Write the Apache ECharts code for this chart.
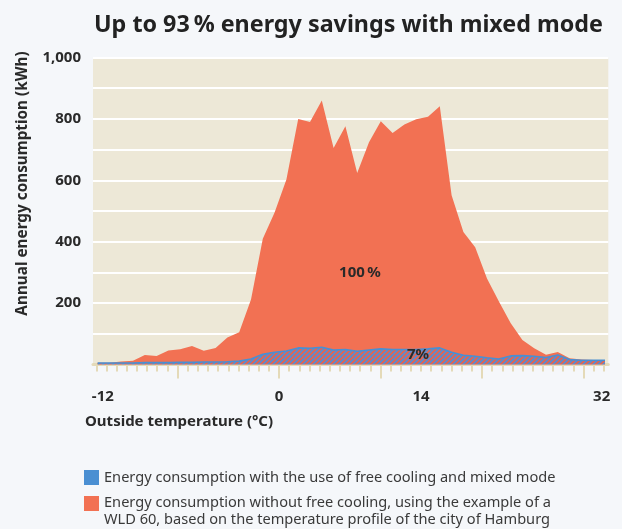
<!DOCTYPE html>
<html>
<head>
<meta charset="utf-8">
<script src="https://cdn.jsdelivr.net/npm/echarts@6/dist/echarts.min.js"></script>
<style>
html,body{margin:0;padding:0;background:#f5f7fa;}
#c{width:622px;height:529px;}
</style>
</head>
<body>
<div id="c"></div>
<script>
// ---- data ----
const temps = [-12,-11,-10,-9,-8,-7,-6,-5,-4,-3,-2,-1,0,1,2,3,4,5,6,7,8,9,10,11,12,13,14,15,16,17,18,19,20,21,22,23,24,25,26,27,28,29,30,31];
const withoutFreeCooling = [6,6,10,12,31,28,46,50,60,45,54,88,105,212,410,495,603,800,790,860,705,776,624,724,792,754,782,799,807,841,551,432,382,280,206,135,80,53,32,41,20,16,15,15];
const withMixedMode = [5,5,5,5,6,6,6,7,7,8,8,9,11,18,33,40,44,54,53,56,47,49,43,47,51,49,49,49,51,54,40,30,27,22,18,28,29,27,23,31,16,14,14,14];
const xTickLabels = ['-12','0','14','32'];
const xTickLabelPos = [-17.36, 0, 14, 31.8];
const xMinorTicks = [-18,-17,-16,-15,-14,-13,-12,-11,-10,-9,-8,-7,-6,-5,-4,-3,-2,-1,0,1,2,3,4,5,6,7,8,9,10,11,12,13,14,15,16,17,18,19,20,21,22,23,24,25,26,27,28,29,30,31,32];
const xMajorTicks = [-10,0,10,20,30];
const yTickLabels = [200,400,600,800,1000];
const titleText = 'Up to 93\u202f% energy savings with mixed mode';
const legendBlue = 'Energy consumption with the use of free cooling and mixed mode';
const legendOrange1 = 'Energy consumption without free cooling, using the example of a';
const legendOrange2 = 'WLD 60, based on the temperature profile of the city of Hamburg';

// ---- styles ----
const FONT = "'Noto Sans', 'Open Sans', sans-serif";
const ORANGE = '#f27153';
const BLUE = '#4a8fd2';
const BEIGE = '#ede8d7';
const TICK = '#e4dab8';

function hatch(){
  const s = 5;
  const cv = document.createElement('canvas');
  cv.width = s; cv.height = s;
  const g = cv.getContext('2d');
  g.fillStyle = '#5a8dd0';
  g.fillRect(0,0,s,s);
  g.strokeStyle = '#e8634c';
  g.lineWidth = 1.6;
  g.beginPath();
  g.moveTo(0,s); g.lineTo(s,0);
  g.moveTo(-1,1); g.lineTo(1,-1);
  g.moveTo(s-1,s+1); g.lineTo(s+1,s-1);
  g.stroke();
  return cv;
}

const chart = echarts.init(document.getElementById('c'));
const pair = arr => temps.map((t,i)=>[t, arr[i]]);

const option = {
  backgroundColor: '#f5f7fa',
  animation: false,
  title: {
    text: titleText, left: 89, top: 9,
    textStyle: {fontFamily: FONT, fontWeight: 'bold', fontSize: 23.3, color: '#222'}
  },
  grid: {left: 93, right: 13.7, top: 57.5, bottom: 164.5, show: true, backgroundColor: BEIGE, borderWidth: 0},
  xAxis: [
    {type: 'value', min: -12.39, max: 31.28, show: false},
    {type: 'value', min: -18.33, max: 32.45, position: 'bottom',
      axisLine: {show: true, lineStyle: {color: TICK, width: 3}},
      axisTick: {show: true, customValues: xMinorTicks, length: 7, lineStyle: {color: TICK, width: 2}},
      axisLabel: {show: true, customValues: xTickLabelPos, margin: 25,
        formatter: v => { const i = xTickLabelPos.findIndex(p => Math.abs(p - v) < 1e-6); return i >= 0 ? xTickLabels[i] : ''; },
        fontFamily: FONT, fontWeight: 'bold', fontSize: 15, color: '#2a2a2a'},
      splitLine: {show: false}},
    {type: 'value', min: -18.33, max: 32.45, position: 'bottom',
      axisLine: {show: false},
      axisTick: {show: true, customValues: xMajorTicks, length: 14, lineStyle: {color: TICK, width: 2}},
      axisLabel: {show: false},
      splitLine: {show: false}}
  ],
  yAxis: {
    type: 'value', min: 0, max: 1000, interval: 100,
    axisLine: {show: false}, axisTick: {show: false},
    splitLine: {show: true, lineStyle: {color: '#ffffff', width: 2}},
    axisLabel: {margin: 12, fontFamily: FONT, fontWeight: 'bold', fontSize: 15, color: '#2a2a2a',
      formatter: v => yTickLabels.indexOf(v) >= 0 ? v.toLocaleString('en-US') : ''}
  },
  series: [
    {type: 'line', name: 'without', xAxisIndex: 0, data: pair(withoutFreeCooling), showSymbol: false,
      lineStyle: {width: 0}, areaStyle: {color: ORANGE, opacity: 1}, z: 2},
    {type: 'line', name: 'mixed', xAxisIndex: 0, data: pair(withMixedMode), showSymbol: false,
      lineStyle: {width: 1.6, color: BLUE}, areaStyle: {color: {image: hatch(), repeat: 'repeat'}, opacity: 1}, z: 3}
  ],
  graphic: [
    {type: 'text', x: 23, y: 183.5, rotation: Math.PI/2,
      style: {text: 'Annual energy consumption (kWh)', font: "bold 15.3px " + FONT, fill: '#2a2a2a', textAlign: 'center', textVerticalAlign: 'middle'}},
    {type: 'text', x: 85, y: 421.5,
      style: {text: 'Outside temperature (\u00b0C)', font: "bold 15px " + FONT, fill: '#2a2a2a', textAlign: 'left', textVerticalAlign: 'middle'}},
    {type: 'text', x: 360, y: 273, z: 10,
      style: {text: '100\u202f%', font: "bold 15px " + FONT, fill: '#2a2a2a', textAlign: 'center', textVerticalAlign: 'middle'}},
    {type: 'text', x: 418, y: 355, z: 10,
      style: {text: '7%', font: "bold 15px " + FONT, fill: '#2a2a2a', textAlign: 'center', textVerticalAlign: 'middle'}},
    {type: 'rect', shape: {x: 84, y: 470, width: 15, height: 15}, style: {fill: BLUE}},
    {type: 'rect', shape: {x: 84, y: 496, width: 15, height: 15}, style: {fill: ORANGE}},
    {type: 'text', x: 104, y: 478, style: {text: legendBlue, font: "14.6px " + FONT, fill: '#3a3a3a', textVerticalAlign: 'middle'}},
    {type: 'text', x: 104, y: 503, style: {text: legendOrange1, font: "14.6px " + FONT, fill: '#3a3a3a', textVerticalAlign: 'middle'}},
    {type: 'text', x: 104, y: 519.5, style: {text: legendOrange2, font: "14.6px " + FONT, fill: '#3a3a3a', textVerticalAlign: 'middle'}}
  ]
};
chart.setOption(option);
</script>
</body>
</html>
